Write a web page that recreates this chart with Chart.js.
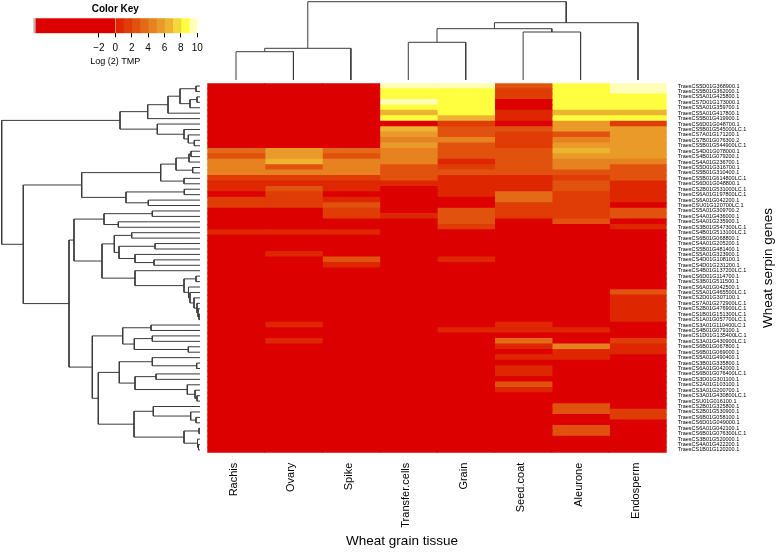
<!DOCTYPE html>
<html><head><meta charset="utf-8">
<script src="https://cdn.jsdelivr.net/npm/chart.js@4"></script>
<style>
html,body{margin:0;padding:0;background:#fff;}
#wrap{position:relative;width:777px;height:552px;overflow:hidden;}
canvas{position:absolute;left:0;top:0;}
</style></head>
<body><div id="wrap">
<canvas id="heat" width="777" height="552"></canvas>
<canvas id="rowDend" width="777" height="552"></canvas>
<canvas id="colDend" width="777" height="552"></canvas>
<canvas id="key" width="777" height="552"></canvas>
<canvas id="ytitle" width="777" height="552"></canvas>
<canvas id="xtitle" width="777" height="552"></canvas>
</div>
<script>
// ---------------- DATA ----------------
const tissues = ['Rachis','Ovary','Spike','Transfer.cells','Grain','Seed.coat','Aleurone','Endosperm'];
const genes = [
'TraesCS5D01G368900.1','TraesCS5B01G362000.1','TraesCS5A01G425800.1','TraesCS7D01G173000.1','TraesCS5A01G359700.1',
'TraesCS5A01G417800.1','TraesCS5B01G419900.1','TraesCS6D01G048700.1','TraesCS5B01G545000LC.1','TraesCS7A01G171200.1',
'TraesCS7B01G076300.2','TraesCS5B01G544900LC.1','TraesCS4D01G078000.1','TraesCS4B01G079200.1','TraesCS4A01G236700.1',
'TraesCS5D01G316700.1','TraesCS5B01G310400.1','TraesCS5B01G614800LC.1','TraesCS6D01G048800.1','TraesCS2B01G531000LC.1',
'TraesCS6A01G197800LC.1','TraesCS6A01G042200.1','TraesCSU01G120700LC.1','TraesCS5A01G309700.2','TraesCS4A01G436000.1',
'TraesCS4A01G235900.1','TraesCS3B01G547300LC.1','TraesCS4B01G513100LC.1','TraesCS6B01G068800.1','TraesCS4A01G205200.1',
'TraesCS5B01G481400.1','TraesCS5A01G323900.1','TraesCS4D01G108100.1','TraesCS4D01G231200.1','TraesCS4B01G137200LC.1',
'TraesCS6D01G114700.1','TraesCS3B01G511500.1','TraesCS6A01G042500.1','TraesCS5A01G465500LC.1','TraesCS2D01G307100.1',
'TraesCS7A01G272900LC.1','TraesCS2B01G476900LC.1','TraesCS1B01G151300LC.1','TraesCS1A01G057700LC.1','TraesCS3A01G110400LC.1',
'TraesCS4B01G079100.1','TraesCS1D01G135400LC.1','TraesCS3A01G430900LC.1','TraesCS6B01G067800.1','TraesCS6B01G069000.1',
'TraesCS5A01G490400.1','TraesCS3B01G335800.1','TraesCS6A01G042000.1','TraesCS6B01G076400LC.1','TraesCS3D01G301100.1',
'TraesCS2A01G103100.1','TraesCS3A01G200700.1','TraesCS3A01G430800LC.1','TraesCSU01G016100.1','TraesCS2B01G325800.1',
'TraesCS2B01G530900.1','TraesCS6B01G058100.1','TraesCS6D01G049000.1','TraesCS6A01G042100.1','TraesCS6B01G076300LC.1',
'TraesCS3B01G520000.1','TraesCS4A01G422200.1','TraesCS1B01G120200.1'];

// log2 TPM per tissue, rows in gene order
const rachis = [
-2.4,-3.1,-2.2,-2.8,-3.5,-2.6,-2.9,-1.8,-3.3,-2.1,
-2.7,-3.0,4.0,3.0,4.5,4.4,4.6,1.5,0.5,0.6,
-1.2,1.2,1.3,-2.5,-3.0,-2.2,-2.6,0.8,-1.9,-2.4,
-2.8,-3.2,-1.6,-2.0,-2.9,-3.4,-2.3,-2.7,-1.5,-2.2,
-3.0,-2.5,-2.8,-3.1,-1.7,-2.4,-2.9,-2.0,-2.6,-3.3,
-2.2,-2.7,-1.9,-2.5,-3.0,-2.1,-2.8,-3.2,-2.4,-2.6,
-1.8,-2.3,-2.9,-3.1,-2.0,-2.5,-2.7,-3.0];
const ovary = [
-2.2,-2.9,-3.0,-2.5,-3.2,-2.7,-2.4,-2.0,-3.1,-2.6,
-2.3,-2.8,5.5,5.4,6.5,2.5,5.0,1.5,0.8,2.6,
1.2,1.3,1.2,-2.1,-2.7,-3.0,-2.4,0.8,-2.2,-2.6,
-1.9,0.7,-2.5,-3.0,-2.3,-2.8,-2.1,-2.6,-3.2,-2.4,
-2.0,-2.7,-2.9,-2.2,0.8,-2.5,-3.1,0.8,-2.6,-2.3,
-2.8,-2.1,-2.7,-3.0,-2.4,-1.9,-2.6,-2.9,-2.2,-2.5,
-3.0,-2.3,-2.7,-2.0,-2.8,-2.4,-3.1,-2.6];
const spike = [
-2.6,-2.3,-2.8,-3.0,-2.1,-2.9,-2.5,-2.2,-3.4,-2.7,
-2.4,-3.1,4.0,3.0,4.5,4.5,4.4,1.5,0.5,0.5,
-1.5,1.0,2.5,1.2,1.3,-2.4,-2.9,0.8,-2.1,-2.6,
-3.0,-2.3,2.5,1.0,-2.7,-2.2,-2.9,-3.1,-2.0,-2.5,
-2.8,-2.4,-3.0,-2.6,-2.2,-2.9,-2.1,-2.7,-3.2,-2.4,
-2.6,-2.0,-2.8,-3.1,-2.3,-2.5,-2.9,-2.2,-2.7,-3.0,
-2.4,-2.1,-2.6,-2.8,-3.2,-2.3,-2.5,-2.9];
const transferCells = [
9.5,8.5,8.5,9.8,8.5,7.0,8.5,-1.5,6.5,5.5,
5.0,5.5,5.0,4.5,4.5,2.5,2.5,3.0,0.5,-1.2,
-2.0,-2.4,-2.8,-2.2,0.5,-2.6,-3.0,-2.1,-2.5,-2.9,
-2.3,-2.7,-2.0,-2.4,-3.1,-2.6,-2.2,-2.8,-3.0,-2.5,
-2.1,-2.9,-2.4,-2.7,-2.3,-3.2,-2.6,-2.0,-2.8,-2.5,
-2.2,-2.9,-3.0,-2.4,-2.7,-2.1,-2.6,-2.3,-2.8,-3.1,
-2.5,-2.2,-2.9,-2.4,-2.6,-3.0,-2.3,-2.7];
const grain = [
9.5,8.5,8.5,8.5,8.5,8.5,6.5,1.5,2.5,2.5,
4.5,2.5,2.5,2.5,1.0,2.0,2.5,0.8,0.8,0.8,
0.8,-1.4,-2.0,2.5,2.5,2.5,1.2,-2.3,-2.8,-2.5,
-2.1,-2.9,1.0,-2.6,-2.2,-3.0,-2.4,-2.7,-2.0,-2.5,
-2.8,-2.3,-3.1,-2.6,-2.1,1.0,-2.7,-2.4,-2.9,-2.2,
-2.5,-3.0,-2.3,-2.8,-2.6,-2.1,-2.4,-2.9,-3.2,-2.5,
-2.2,-2.7,-2.0,-2.6,-2.8,-2.3,-3.0,-2.4];
const seedCoat = [
3.0,1.2,1.8,-1.5,-2.0,0.8,0.8,-1.8,2.5,1.5,
1.5,1.5,2.5,2.5,2.5,2.5,2.5,0.8,0.8,0.8,
3.5,3.5,1.2,1.2,1.2,-2.2,-2.6,-2.9,-2.3,-2.7,
-3.0,-2.4,-2.1,-2.8,-2.5,-2.2,-2.9,-2.6,-2.3,-2.0,
-2.7,-2.4,-3.1,-2.5,1.0,1.0,-2.2,4.0,1.0,-2.6,
1.0,-2.3,1.0,1.0,-2.4,2.5,1.0,-2.7,-2.9,-2.2,
-2.5,-2.8,-2.1,-2.6,-3.0,-2.4,-2.2,-2.7];
const aleurone = [
8.5,8.5,8.5,8.8,8.5,6.5,8.5,5.5,5.5,2.5,
4.5,5.5,6.5,5.5,4.5,4.5,2.5,2.0,2.5,2.5,
2.0,2.0,1.2,1.2,1.2,3.0,-2.1,-2.5,-2.9,-2.3,
-2.7,-3.0,-2.4,-2.2,-2.8,-2.6,-2.0,-2.5,-2.9,-2.3,
-2.6,-2.1,-3.1,-2.4,-2.7,1.0,-2.2,-2.8,4.5,1.0,
1.0,-2.5,-2.9,-2.3,-2.6,-2.0,-2.7,-2.4,-3.0,2.5,
2.5,-2.2,-2.6,3.0,3.0,-2.8,-2.4,-2.5];
const endosperm = [
9.5,9.5,8.5,8.5,8.5,6.5,8.5,2.0,5.5,5.5,
5.5,5.5,5.5,5.5,4.5,2.5,2.5,3.0,0.8,0.8,
0.8,0.8,-1.6,2.5,2.5,-1.9,1.0,-2.4,-2.8,-2.2,
-2.6,-3.0,-2.3,-2.7,-2.1,-2.5,-2.9,-2.4,2.5,1.0,
1.0,1.0,1.0,1.0,-2.3,-2.7,-2.2,1.2,1.0,1.0,
-2.6,-2.4,-2.9,-2.1,-2.5,-2.8,-2.3,-2.6,-3.0,-2.2,
1.2,1.2,-2.7,-2.4,-2.1,-2.8,-2.5,-2.9];

// dendrograms: [mergeHeight, left, right], leaves = 1-based position
const rowTree = [198.3,
  [80, [52.3, [32, [20, [4,1,2], [10,[3,3,4],5]], 6], 7],
       [42.7, 8, [16, 9, [11.7, 10, [5.7, 11, 12]]]]],
  [176.7,
    [118.3, [39.3, [24, [11, [9,13,14], 15], [7.3,16,17]], [16,18,19]],
            [74, [15.7,20,21], [51.7,22,23]]],
    [131,
      [126, [96, [47.7,24,25], [81.7,26,27]],
            [98, [85.7, [68.3,28,29], [81, [45,30,31], [65, 32, [46,33,34]]]],
                 [65, 35, [16, [4,36,37], [11.5, 38, [10, 39, [6, 40, [3, 41, [2, 42, [1,43,44]]]]]]]]]],
      [107.7,
        [77.3, [49,45,46], [65.7, [47.7,47,48], [11.7,49,50]]],
        [101.7,
          [80.7, [47.7, 51, [3.3,52,53]], [65, [44,54,55], [12.7, 56, [5, 57, [3,58,59]]]]],
          [66, [46.7, 60, [9.3, 61, [4,62,63]]], [16, [1,64,65], [2.5, 66, [1.5,67,68]]]]]]]]];
const colTree = [78.3, [31.7, [28.3,1,2], 3], [57.3, [51.3, [37.7,4,5], [48,6,7]], 8]];

// colour key
const keyBreaks = [-10,-9.75,0,1,2,3,4,5,6,7,8,9,10];
const keyTicks = [-2,0,2,4,6,8,10];

// ---------------- STYLE ----------------
const palette = ['#DC0000','#DE2600','#DF3C06','#E1520E','#E36A16','#E6821F','#E99A28','#EDB431','#F4D83A','#FFFF40','#FFFFB8'];
const belowKeyColor = '#C9B2B2';
function colorFor(v){ return v <= 0 ? palette[0] : palette[Math.min(10, Math.ceil(v))]; }
const lineColor = '#3a3a3a';
Chart.defaults.font.family = "'Liberation Sans', Arial, Helvetica, sans-serif";
Chart.defaults.color = '#000';
Chart.defaults.animation = false;
Chart.defaults.responsive = false;
Chart.defaults.plugins.legend.display = false;
Chart.defaults.plugins.tooltip.enabled = false;

const W = 777, H = 552;
const HM = {left: 207.3, top: 83.3, right: 666.7, bottom: 452.7};

// ---------------- HEATMAP ----------------
const series = [rachis, ovary, spike, transferCells, grain, seedCoat, aleurone, endosperm];
new Chart(document.getElementById('heat'), {
  type: 'bar',
  data: {
    labels: genes,
    datasets: tissues.map((t, k) => ({
      label: t,
      data: series[k].map(() => 1),
      backgroundColor: series[k].map(colorFor),
      borderWidth: 0, barPercentage: 1, categoryPercentage: 1, inflateAmount: 0.6,
      xAxisID: 'x', yAxisID: 'y'
    }))
  },
  options: {
    indexAxis: 'y',
    layout: {padding: {left: HM.left, top: HM.top, right: W - HM.right - 99, bottom: 0}},
    scales: {
      x: {type: 'linear', stacked: true, min: 0, max: tissues.length, display: false},
      tissue: {
        type: 'category', labels: tissues, position: 'bottom', offset: true,
        grid: {display: false, drawTicks: false}, border: {display: false},
        ticks: {autoSkip: false, minRotation: 90, maxRotation: 90, padding: 10, labelOffset: -2, font: {size: 11}, color: '#000'},
        afterFit: s => { s.height = H - HM.bottom; }
      },
      y: {
        type: 'category', position: 'right', stacked: true, offset: true,
        grid: {display: false, drawTicks: false}, border: {display: false},
        ticks: {autoSkip: false, padding: 11, font: {size: 5.5}, color: '#000'},
        afterFit: s => { s.width = 99; }
      }
    }
  }
});

// ---------------- DENDROGRAMS ----------------
function layoutTree(node, segs){
  if (typeof node === 'number') return {pos: node, h: 0};
  const [h, l, r] = node;
  const a = layoutTree(l, segs), b = layoutTree(r, segs);
  segs.push([[a.h, a.pos], [h, a.pos], [h, b.pos], [b.h, b.pos]]);
  return {pos: (a.pos + b.pos) / 2, h};
}
const rowSegs = []; layoutTree(rowTree, rowSegs);
const colSegs = []; layoutTree(colTree, colSegs);
function segDatasets(segs, horiz){
  return segs.map(s => ({
    data: s.map(([h, p]) => horiz ? {x: h, y: p} : {x: p, y: h}),
    showLine: true, pointRadius: 0, borderColor: lineColor, borderWidth: 1, tension: 0, clip: false
  }));
}
new Chart(document.getElementById('rowDend'), {
  type: 'scatter',
  data: {datasets: segDatasets(rowSegs, true)},
  options: {
    layout: {padding: {left: 0, right: W - 200, top: HM.top, bottom: H - HM.bottom}},
    scales: {
      x: {type: 'linear', min: 0, max: 200, reverse: true, display: false},
      y: {type: 'linear', min: 0.5, max: genes.length + 0.5, reverse: true, display: false}
    }
  }
});
new Chart(document.getElementById('colDend'), {
  type: 'scatter',
  data: {datasets: segDatasets(colSegs, false)},
  options: {
    layout: {padding: {left: HM.left, right: W - HM.right, top: 0, bottom: H - 80}},
    scales: {
      x: {type: 'linear', min: 0.5, max: tissues.length + 0.5, display: false},
      y: {type: 'linear', min: 0, max: 80, display: false}
    }
  }
});

// ---------------- COLOUR KEY ----------------
const keyDs = [];
for (let i = 0; i < keyBreaks.length - 1; i++) {
  const lo = keyBreaks[i], hi = keyBreaks[i + 1];
  keyDs.push({data: [[lo, hi]], backgroundColor: i === 0 ? belowKeyColor : colorFor((lo + hi) / 2),
    borderWidth: 0, barPercentage: 1, categoryPercentage: 1, grouped: false});
}
new Chart(document.getElementById('key'), {
  type: 'bar',
  data: {labels: [''], datasets: keyDs},
  options: {
    indexAxis: 'y',
    layout: {padding: {left: 33.3, right: W - 197.3, top: 3, bottom: H - 67.3}},
    plugins: {title: {display: true, text: 'Color Key', font: {size: 10, weight: 'bold'}, color: '#000', padding: {top: 0, bottom: 3.3}}},
    scales: {
      x: {type: 'linear', min: keyBreaks[0], max: keyBreaks[keyBreaks.length - 1], position: 'bottom',
        afterBuildTicks: s => { s.ticks = keyTicks.map(v => ({value: v})); },
        grid: {display: true, drawOnChartArea: false, drawTicks: true, tickLength: 4, color: '#000'},
        border: {display: false},
        ticks: {padding: 5, font: {size: 10}, color: '#000', autoSkip: false, maxRotation: 0,
          callback: v => v < 0 ? '\u2212' + Math.abs(v) : String(v)},
        title: {display: true, text: 'Log (2) TMP', font: {size: 9}, color: '#000', padding: {top: 0, bottom: 0}},
        afterFit: s => { s.height = 34; }
      },
      y: {display: false}
    }
  }
});

// ---------------- AXIS TITLES ----------------
new Chart(document.getElementById('ytitle'), {
  type: 'scatter',
  data: {datasets: []},
  options: {
    layout: {padding: {left: 757, right: 0, top: HM.top, bottom: H - HM.bottom}},
    scales: {
      x: {display: false, min: 0, max: 1},
      y: {position: 'left', min: 0, max: 1,
        grid: {display: false, drawTicks: false}, border: {display: false}, ticks: {display: false},
        title: {display: true, text: 'Wheat serpin genes', font: {size: 13.5}, color: '#000', padding: {top: 3, bottom: 0}},
        afterFit: s => { s.width = 17; }
      }
    }
  }
});
new Chart(document.getElementById('xtitle'), {
  type: 'scatter',
  data: {datasets: []},
  options: {
    layout: {padding: {left: HM.left, right: W - 596.7, top: HM.top, bottom: 0}},
    scales: {
      y: {display: false, min: 0, max: 1},
      x: {position: 'bottom', min: 0, max: 1,
        grid: {display: false, drawTicks: false}, border: {display: false}, ticks: {display: false},
        title: {display: true, text: 'Wheat grain tissue', font: {size: 13.5}, color: '#000', padding: {top: 0, bottom: 3}},
        afterFit: s => { s.height = H - HM.bottom; }
      }
    }
  }
});
</script>
</body></html>
